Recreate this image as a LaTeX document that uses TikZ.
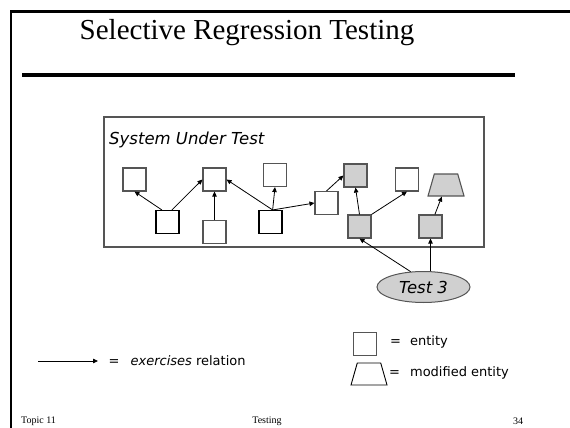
\documentclass[tikz,border=0pt]{standalone}
\usepackage{fontspec}
\setmainfont{Liberation Serif}
\newfontfamily\tahoma{DejaVu Sans}
\usetikzlibrary{shapes.geometric}
\usetikzlibrary{arrows.meta}
\usetikzlibrary{positioning}
\usetikzlibrary{calc}
\usetikzlibrary{scopes}
\definecolor{modgray}{RGB}{208,208,208}
\definecolor{edgegray}{RGB}{85,85,85}

\begin{document}
\begin{tikzpicture}[x=1pt,y=-1pt,
        entity/.style={draw=edgegray,line width=1.1pt,fill=white,minimum size=23pt,inner sep=0pt},
        modentity/.style={entity,fill=modgray},
        changed/.style={trapezium,draw=edgegray,line width=1.1pt,fill=modgray,trapezium stretches=true,
            trapezium angle=75,minimum width=36pt,minimum height=22pt,inner sep=1pt},
        rel/.style={-{Triangle[length=5pt,width=4.5pt]},line width=0.8pt},
        testcase/.style={ellipse,draw=edgegray,line width=1pt,fill=modgray,minimum width=93pt,
            minimum height=31pt,inner sep=0pt,font=\tahoma\itshape\fontsize{16.5}{18}\selectfont},
        lbl/.style={font=\tahoma\fontsize{13}{15}\selectfont,inner sep=0pt,anchor=west},
        foot/.style={font=\fontsize{10}{12}\selectfont,inner sep=0pt}]
        \useasboundingbox (0,0) rectangle (570,428);
        { [line width=2.5pt]
            \draw (570,11.5) -- (10.8,11.5) -- (10.8,428);
        }
        \draw[line width=4pt] (22,75) -- (515,75);
        \node[inner sep=0pt,anchor=base] (title) at (247,40) {\fontsize{29}{34}\selectfont Selective Regression Testing};

        \node[draw=edgegray,line width=1.2pt,minimum width=380pt,minimum height=130pt,inner sep=0pt] (sut) at (294,182) {};
        \node[inner sep=0pt,anchor=west,font=\tahoma\itshape\fontsize{16.5}{18}\selectfont] (sutlbl) at (109,140) {System Under Test};

        \node[entity] (a) at (134.5,179.5) {};
        \node[entity,draw=black] (b) at (167.5,222) {};
        \node[entity] (c) at (214.5,179.5) {};
        \node[entity] (d) at (214.5,232) {};
        \node[entity] (e) at (275,175) {};
        \node[entity,draw=black] (f) at (270.5,222) {};
        \node[entity] (g) at (326.5,203) {};
        \node[modentity] (h) at (355.5,175.5) {};
        \node[entity] (i) at (407,179.5) {};
        \node[changed] (t) at (446,185) {\phantom{\rule{4pt}{4pt}}};
        \node[modentity] (j) at (359.5,226.5) {};
        \node[modentity] (k) at (430.5,226.5) {};
        \node[testcase] (test3) at (423.5,287) {Test 3};

        { [rel]
            \draw (b.115) -- (a.south);
            \draw (b.70) -- (c.west);
            \draw (d) -- (c);
            \draw (f.80) -- (c.east);
            \draw (f.80) -- (e.south);
            \draw (f.80) -- (g.west);
            \draw (g.north) -- (h.west);
            \draw (j.north) -- (h.south);
            \draw (j.north east) -- (i.south);
            \draw (k.70) -- (t.-110);
            \draw (test3.130) -- (j.south);
            \draw (test3.north -| k.south) -- (k.south);
        }

        \coordinate (relstart) at (38,361);
        \coordinate (relend) at (98,361);
        \draw[rel] (relstart) -- (relend);
        \node[lbl] (rellbl) at (108.5,361) {=\hspace{11pt}\textit{exercises} relation};
        \node[entity] (entkey) at (365,344) {};
        \node[lbl] (entlbl) at (390,342) {=\hspace{9pt}entity};
        \node[changed,fill=white,draw=black,line width=0.9pt] (modkey) at (369,374) {\phantom{\rule{4pt}{4pt}}};
        \node[lbl] (modlbl) at (389,373) {=\hspace{10pt}modified entity};

        \node[foot,anchor=west] (topic) at (21,421) {Topic 11};
        \node[foot] (subject) at (267,421) {Testing};
        \node[foot] (pageno) at (518,421) {34};
    \end{tikzpicture}
\end{document}
